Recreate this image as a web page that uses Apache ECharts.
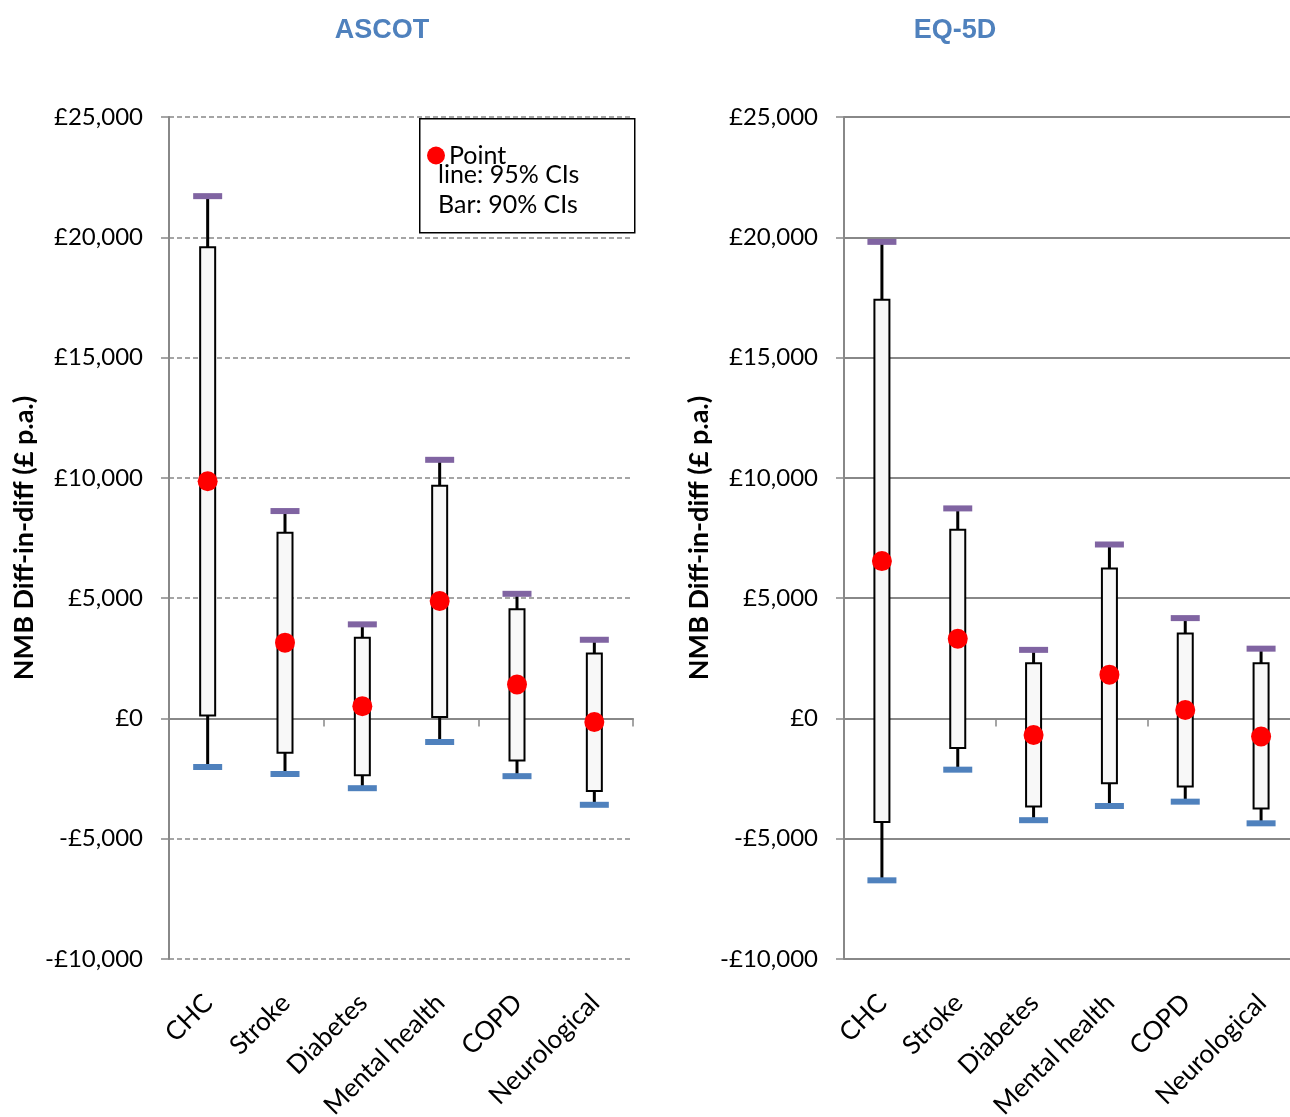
<!DOCTYPE html>
<html>
<head>
<meta charset="utf-8">
<script src="https://cdn.jsdelivr.net/npm/echarts@6/dist/echarts.min.js"></script>
<style>
  html, body { margin: 0; padding: 0; background: #fff; }
  #chart { width: 1290px; height: 1117px; }
</style>
</head>
<body>
<div id="chart"></div>
<script>
// Net monetary benefit, difference-in-differences (£ per annum)
const categories = ['CHC', 'Stroke', 'Diabetes', 'Mental health', 'COPD', 'Neurological'];
const yTicks = [-10000, -5000, 0, 5000, 10000, 15000, 20000, 25000];

// ASCOT
const ascotPoint  = [9860, 3150, 510, 4880, 1410, -150];
const ascotLow95  = [-2020, -2310, -2900, -980, -2400, -3590];
const ascotLow90  = [120, -1430, -2360, 60, -1750, -3020];
const ascotHigh90 = [19590, 7720, 3350, 9670, 4540, 2700];
const ascotHigh95 = [21710, 8620, 3910, 10750, 5180, 3270];

// EQ-5D
const eqPoint  = [6540, 3310, -690, 1820, 350, -750];
const eqLow95  = [-6730, -2130, -4230, -3640, -3460, -4360];
const eqLow90  = [-4310, -1230, -3660, -2690, -2830, -3740];
const eqHigh90 = [17400, 7840, 2290, 6230, 3530, 2290];
const eqHigh95 = [19810, 8730, 2850, 7230, 4170, 2900];

const FONT = 'Lato, "Open Sans", sans-serif';
const TITLE_FONT = '"Liberation Sans Narrow", "Liberation Sans", sans-serif';
const GRAY = '#888888';
const PURPLE = '#8064A2';
const BLUE = '#4F81BD';

function money(v) {
  const s = Math.abs(v).toLocaleString('en-GB');
  return (v < 0 ? '-£' : '£') + s;
}

function ciRows(low95, low90, high90, high95) {
  return categories.map((c, i) => [i, low95[i], low90[i], high90[i], high95[i]]);
}

// whisker (95% CI), box (90% CI) and the two end caps
function renderCI(params, api) {
  const i = api.value(0);
  const x = api.coord([i, 0])[0];
  const yL95 = api.coord([i, api.value(1)])[1];
  const yL90 = api.coord([i, api.value(2)])[1];
  const yH90 = api.coord([i, api.value(3)])[1];
  const yH95 = api.coord([i, api.value(4)])[1];
  const boxW = 15, capW = 29, capH = 6;
  return {
    type: 'group',
    children: [
      { type: 'line', shape: { x1: x, y1: yH95, x2: x, y2: yL95 },
        style: { stroke: '#000', lineWidth: 3 } },
      { type: 'rect', shape: { x: x - boxW / 2, y: yH90, width: boxW, height: yL90 - yH90 },
        style: { fill: '#f8f8f8', stroke: '#000', lineWidth: 2 } },
      { type: 'rect', shape: { x: x - capW / 2, y: yH95 - capH / 2, width: capW, height: capH },
        style: { fill: PURPLE } },
      { type: 'rect', shape: { x: x - capW / 2, y: yL95 - capH / 2, width: capW, height: capH },
        style: { fill: BLUE } }
    ]
  };
}

function yAxisFor(gridIndex, dashed) {
  return {
    type: 'value', gridIndex,
    min: yTicks[0], max: yTicks[yTicks.length - 1], interval: 5000,
    name: 'NMB Diff-in-diff (£ p.a.)',
    nameLocation: 'middle', nameGap: 131,
    nameTextStyle: { fontFamily: FONT, fontWeight: 'bold', fontSize: 27, color: '#000' },
    axisLine: { show: true, lineStyle: { color: GRAY, width: 2 } },
    axisTick: { show: true, length: 8, lineStyle: { color: GRAY, width: 1.5 } },
    axisLabel: { formatter: money, fontFamily: FONT, fontSize: 24, color: '#000', margin: 26 },
    splitLine: { show: true, lineStyle: { color: GRAY, width: dashed ? 1.5 : 2, type: dashed ? [5, 3] : 'solid' } }
  };
}

function xAxesFor(gridIndex) {
  return [
    { // category labels along the bottom
      type: 'category', gridIndex, data: categories, position: 'bottom',
      axisLine: { show: false, onZero: false }, axisTick: { show: false },
      axisLabel: { rotate: 45, fontFamily: FONT, fontSize: 26, color: '#000',
                   margin: 22, verticalAlign: 'top', align: 'right', padding: [0, 12, 0, 0] }
    },
    { // zero line with category ticks
      type: 'category', gridIndex, data: categories, position: 'bottom',
      axisLine: { show: true, onZero: true, lineStyle: { color: GRAY, width: 2 } },
      axisTick: { show: true, length: 8, lineStyle: { color: GRAY, width: 1.5 } },
      axisLabel: { show: false }
    }
  ];
}

const chart = echarts.init(document.getElementById('chart'), null, { renderer: 'canvas' });

chart.setOption({
  backgroundColor: '#fff',
  animation: false,
  title: [
    { text: 'ASCOT', left: 377, top: 12, textAlign: 'center',
      textStyle: { fontFamily: TITLE_FONT, fontWeight: 'bold', fontSize: 27, color: BLUE } },
    { text: 'EQ-5D', left: 950, top: 12, textAlign: 'center',
      textStyle: { fontFamily: TITLE_FONT, fontWeight: 'bold', fontSize: 27, color: BLUE } }
  ],
  grid: [
    { left: 169, top: 117, width: 464, height: 842, containLabel: false, outerBoundsMode: 'none' },
    { left: 844, top: 117, width: 455, height: 842, containLabel: false, outerBoundsMode: 'none' }
  ],
  xAxis: [...xAxesFor(0), ...xAxesFor(1)],
  yAxis: [yAxisFor(0, true), yAxisFor(1, false)],
  legend: {
    data: ['Point'], left: 427, top: 143, padding: 0, z: 20,
    itemWidth: 18, itemHeight: 18, itemGap: 5, selectedMode: false,
    textStyle: { fontFamily: FONT, fontSize: 25, color: '#000', padding: [0, 0, 0, -1] }
  },
  graphic: [
    { type: 'rect', left: 419, top: 118, z: 5,
      shape: { width: 215, height: 114 }, style: { fill: '#fff', stroke: '#000', lineWidth: 1.5 } },
    { type: 'text', left: 438, top: 162, z: 21,
      style: { text: 'line: 95% CIs', fontFamily: FONT, fontSize: 25, fill: '#000' } },
    { type: 'text', left: 438, top: 192, z: 21,
      style: { text: 'Bar: 90% CIs', fontFamily: FONT, fontSize: 25, fill: '#000' } }
  ],
  series: [
    { type: 'custom', name: 'CI', xAxisIndex: 1, yAxisIndex: 0,
      data: ciRows(ascotLow95, ascotLow90, ascotHigh90, ascotHigh95),
      encode: { x: 0, y: [1, 2, 3, 4] }, renderItem: renderCI, z: 3 },
    { type: 'scatter', name: 'Point', xAxisIndex: 1, yAxisIndex: 0,
      data: ascotPoint.map((v, i) => [i, v]),
      symbol: 'circle', symbolSize: 20, itemStyle: { color: '#ff0000', opacity: 1 }, z: 4 },
    { type: 'custom', name: 'CI', xAxisIndex: 3, yAxisIndex: 1,
      data: ciRows(eqLow95, eqLow90, eqHigh90, eqHigh95),
      encode: { x: 0, y: [1, 2, 3, 4] }, renderItem: renderCI, z: 3 },
    { type: 'scatter', name: 'Point', xAxisIndex: 3, yAxisIndex: 1,
      data: eqPoint.map((v, i) => [i, v]),
      symbol: 'circle', symbolSize: 20, itemStyle: { color: '#ff0000', opacity: 1 }, z: 4 }
  ]
});
</script>
</body>
</html>
